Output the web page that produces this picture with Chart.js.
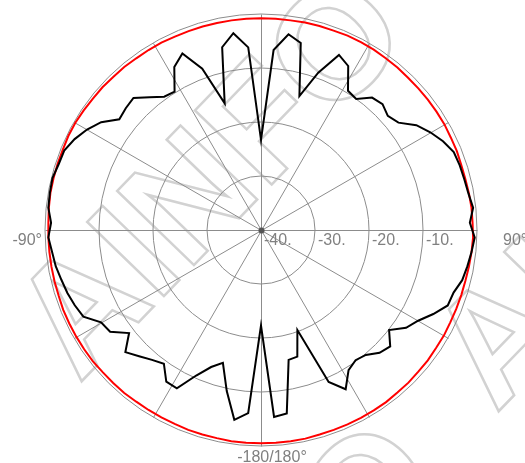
<!DOCTYPE html>
<html>
<head>
<meta charset="utf-8">
<script src="https://cdn.jsdelivr.net/npm/chart.js@4.4.0/dist/chart.umd.min.js"></script>
<style>
  html, body { margin: 0; padding: 0; background: #fff; }
  #wrap { width: 525px; height: 463px; position: relative; }
</style>
</head>
<body>
<div id="wrap"><canvas id="chart-pattern"></canvas></div>
<script>
// angle of each sample, degrees clockwise from top
const angles = [
  0, 4, 8, 12, 16, 20, 24, 28, 32, 36, 40, 44, 48, 52, 56, 60, 64, 68, 72, 76, 80, 84, 88,
  92, 96, 100, 104, 108, 112, 116, 120, 124, 128, 132, 136, 140, 144, 148, 152, 156, 160, 164, 168, 172, 176,
  180, 184, 188, 192, 196, 200, 204, 208, 212, 216, 220, 224, 228, 232, 236, 240, 244, 248, 252, 256, 260, 264, 268,
  272, 276, 280, 284, 288, 292, 296, 300, 304, 308, 312, 316, 320, 324, 328, 332, 336, 340, 344, 348, 352, 356
];

// black trace, dB
const patternA = [
  -23.3, -6.6, -3.4, -4.6, -14.2, -9.0, -4.5, -5.6, -9.6, -10.0, -8.0, -7.6, -8.4, -7.7, -5.3, -3.8, -2.5, -1.5, -1.3, -1.2, -1.0, -0.5, -1.3,
  -0.4, -0.8, -1.2, -1.6, -2.5, -2.7, -4.5, -6.4, -7.6, -9.9, -7.8, -8.4, -9.8, -10.2, -9.4, -6.6, -9.2, -20.3, -15.6, -15.4, -5.7, -5.3,
  -22.3, -6.0, -4.5, -9.5, -14.4, -13.0, -10.5, -6.8, -6.9, -9.4, -8.6, -7.5, -6.2, -9.0, -6.3, -5.8, -3.4, -2.8, -2.3, -1.9, -1.4, -1.1, -0.6,
  -1.1, -0.4, -0.3, -0.2, -0.6, -0.7, -1.6, -2.8, -4.3, -6.7, -6.3, -6.0, -7.9, -9.5, -9.8, -5.8, -4.2, -8.2, -15.6, -5.4, -3.2, -6.1
];

// red trace, dB
const patternB = [
  -0.8, -0.8, -0.8, -0.7, -0.7, -0.7, -0.6, -0.6, -0.6, -0.7, -0.7, -0.8, -0.8, -0.8, -0.8, -0.8, -0.9, -0.9, -1.0, -1.0, -0.9, -0.8, -0.8,
  -0.7, -0.8, -0.9, -1.0, -1.0, -1.0, -1.0, -0.9, -0.9, -0.8, -0.8, -0.7, -0.7, -0.6, -0.6, -0.6, -0.6, -0.6, -0.6, -0.5, -0.5, -0.5,
  -0.5, -0.5, -0.5, -0.6, -0.6, -0.6, -0.7, -0.7, -0.7, -0.7, -0.6, -0.6, -0.6, -0.5, -0.5, -0.5, -0.5, -0.5, -0.6, -0.6, -0.6, -0.6, -0.6,
  -0.6, -0.5, -0.4, -0.4, -0.4, -0.4, -0.3, -0.3, -0.4, -0.5, -0.5, -0.6, -0.6, -0.7, -0.7, -0.7, -0.8, -0.8, -0.8, -0.8, -0.8, -0.8
];

const spokeAngles = [0, 30, 60, 90, 120, 150, 180, 210, 240, 270, 300, 330];
const tickValues = [-40, -30, -20, -10];
const tickLabels = ['-40.', '-30.', '-20.', '-10.'];
const angleLabels = ['-90°', '90°', '-180/180°'];

const gridColor = '#8c8c8c';
const textColor = '#808080';
const labelFont = '16px "Liberation Sans", Arial, sans-serif';

const posAt = (scale, deg, value) =>
  scale.getPointPositionForValue(deg / 360 * angles.length, value);

const polarDecor = {
  id: 'polarDecor',
  beforeDraw(chart) {
    // faint watermark behind everything
    const ctx = chart.ctx;
    ctx.save();
    ctx.strokeStyle = '#d2d2d2';
    ctx.lineWidth = 2.5;
    ctx.font = 'bold 155px "Liberation Sans", Arial, sans-serif';
    [[79, 384], [111, 831], [496, 414]].forEach(([x, y]) => {
      ctx.save();
      ctx.translate(x, y);
      ctx.rotate(-46 * Math.PI / 180);
      ctx.strokeText('AINFO', 0, 0);
      ctx.restore();
    });
    ctx.restore();
  },
  beforeDatasetsDraw(chart) {
    const r = chart.scales.r;
    const ctx = chart.ctx;
    ctx.save();
    ctx.strokeStyle = gridColor;
    ctx.lineWidth = 1;
    spokeAngles.forEach(a => {
      const p = posAt(r, a, r.max);
      ctx.beginPath();
      ctx.moveTo(r.xCenter + 0.5, r.yCenter + 0.5);
      ctx.lineTo(p.x + 0.5, p.y + 0.5);
      ctx.stroke();
    });
    ctx.fillStyle = '#555';
    ctx.beginPath();
    ctx.arc(r.xCenter + 0.5, r.yCenter + 0.5, 3, 0, Math.PI * 2);
    ctx.fill();

    ctx.font = labelFont;
    ctx.fillStyle = textColor;
    ctx.textAlign = 'left';
    ctx.textBaseline = 'top';
    tickValues.forEach((v, i) => {
      const p = posAt(r, 90, v);
      ctx.fillText(tickLabels[i], p.x + 3, p.y + 3);
    });

    const left = posAt(r, 270, r.max);
    const right = posAt(r, 90, r.max);
    const bottom = posAt(r, 180, r.max);
    ctx.textBaseline = 'middle';
    ctx.textAlign = 'right';
    ctx.fillText(angleLabels[0], left.x - 3, left.y + 11);
    ctx.textAlign = 'left';
    ctx.fillText(angleLabels[1], right.x + 26, right.y + 11);
    ctx.textAlign = 'center';
    ctx.textBaseline = 'top';
    ctx.fillText(angleLabels[2], bottom.x + 11, bottom.y + 4);
    ctx.restore();
  }
};

new Chart(document.getElementById('chart-pattern'), {
  type: 'radar',
  data: {
    labels: angles,
    datasets: [
      {
        data: patternA,
        borderColor: '#000',
        borderWidth: 2,
        fill: false,
        pointRadius: 0
      },
      {
        data: patternB,
        borderColor: '#ff0000',
        borderWidth: 2,
        fill: false,
        pointRadius: 0
      }
    ]
  },
  options: {
    responsive: true,
    maintainAspectRatio: false,
    animation: false,
    layout: { padding: { left: 45, right: 48, top: 14, bottom: 17 } },
    elements: { line: { tension: 0 } },
    plugins: { legend: { display: false }, tooltip: { enabled: false } },
    scales: {
      r: {
        min: -40,
        max: 0,
        ticks: { display: false, stepSize: 10 },
        grid: { circular: true, color: gridColor, lineWidth: 1 },
        angleLines: { display: false },
        pointLabels: { display: false }
      }
    }
  },
  plugins: [polarDecor]
});
</script>
</body>
</html>
